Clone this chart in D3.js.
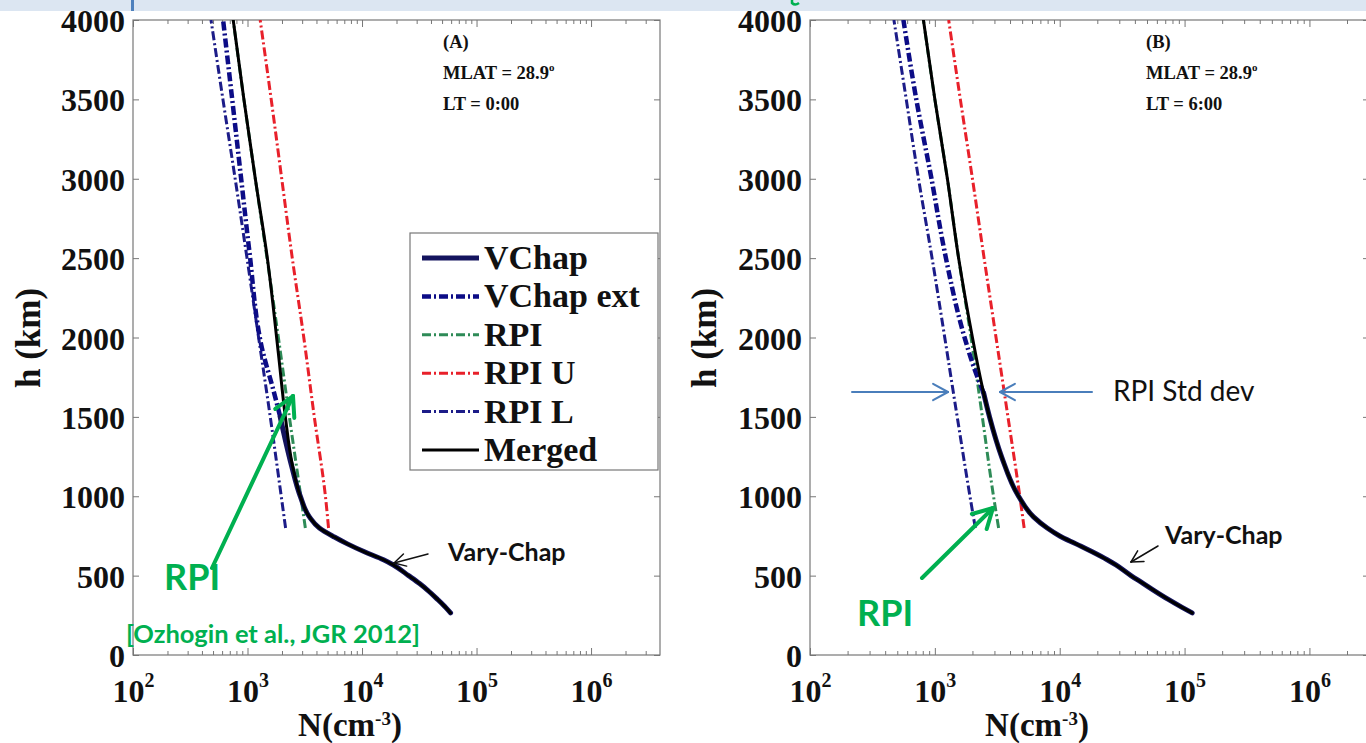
<!DOCTYPE html>
<html>
<head>
<meta charset="utf-8">
<script src="https://cdn.jsdelivr.net/npm/d3@7"></script>
<style>
  body { margin: 0; background: #fff; }
  svg { display: block; }
  .tk text { font-family: "Liberation Serif", serif; font-weight: bold; font-size: 32px; fill: #111; }
  .tk line, .tk path { stroke: #777; }
</style>
</head>
<body>
<div id="chart"></div>
<script>
// heights (km) of the RPI profiles, shared by both panels
var hRpi = [800, 1000, 1500, 2000, 2500, 3000, 3500, 4000];

// panel A, LT = 0:00
var rpiA  = [3200, 2920, 2320, 1860, 1480, 1170, 930, 750];
var rpiUA = [5100, 4790, 3830, 3100, 2460, 1990, 1610, 1290];
var rpiLA = [2150, 1970, 1580, 1250, 990, 780, 610, 480];
var hChapA = [265, 300, 350, 409, 450, 500, 567, 600, 650, 700, 743, 800, 870, 1000, 1200, 1500];
var chapA  = [59300, 53700, 45700, 37300, 31800, 25500, 18800, 15400, 10500, 7450, 5740, 4240, 3470, 2890, 2410, 1930];
var hExtA = [1500, 1670, 1920, 2550, 3000, 3500, 4000];
var extA  = [1930, 1680, 1350, 1035, 880, 735, 612];
var hMergedA = [265, 300, 350, 409, 450, 500, 567, 600, 650, 700, 743, 800, 870, 1000, 1200, 1500, 1900, 2500, 3000, 3500, 4000];
var mergedA  = [59300, 53700, 45700, 37300, 31800, 25500, 18800, 15400, 10500, 7450, 5740, 4240, 3470, 2890, 2460, 2140, 1860, 1490, 1170, 930, 750];

// panel B, LT = 6:00
var rpiB  = [3240, 2950, 2400, 1950, 1550, 1260, 1000, 810];
var rpiUB = [5190, 4790, 3850, 3090, 2480, 2000, 1600, 1290];
var rpiLB = [2110, 1910, 1510, 1200, 950, 740, 590, 470];
var hChapB = [265, 300, 350, 409, 450, 500, 567, 600, 650, 700, 750, 800, 870, 1000, 1250, 1500, 1650];
var chapB  = [115000, 95500, 74100, 56200, 46800, 37200, 28200, 24000, 18200, 13500, 10000, 7940, 6170, 4680, 3420, 2740, 2460];
var hExtB = [1650, 1800, 2000, 2551, 3000, 3500, 4000];
var extB  = [2460, 2080, 1730, 1190, 940, 710, 560];
var hMergedB = [265, 300, 350, 409, 450, 500, 567, 600, 650, 700, 750, 800, 870, 1000, 1250, 1500, 1650, 1800, 2000, 2500, 3000, 3500, 4000];
var mergedB  = [115000, 95500, 74100, 56200, 46800, 37200, 28200, 24000, 18200, 13500, 10000, 7940, 6170, 4680, 3420, 2740, 2460, 2240, 2000, 1550, 1260, 1000, 810];

var hTicks = [0, 500, 1000, 1500, 2000, 2500, 3000, 3500, 4000];
var decades = [1e2, 1e3, 1e4, 1e5, 1e6];
var legendNames = ["VChap", "VChap ext", "RPI", "RPI U", "RPI L", "Merged"];

var width = 1366, height = 743;
var svg = d3.select("#chart").append("svg")
    .attr("width", width)
    .attr("height", height);

// strip of the slide above the figure
svg.append("rect").attr("x", 0).attr("y", 0).attr("width", width).attr("height", 11).attr("fill", "#dce6f2");
svg.append("rect").attr("x", 131).attr("y", 0).attr("width", 3).attr("height", 11).attr("fill", "#4f81bd");
svg.append("path").attr("d", "M792,0 L792,3 Q795,6 799,3")
  .attr("fill", "none").attr("stroke", "#00b050").attr("stroke-width", 2.5);

var styles = {
  "VChap":     {color: "#14145e", w: 5,   dash: null},
  "VChap ext": {color: "#0c0c86", w: 4.5, dash: "9,3,2,3"},
  "RPI":       {color: "#2e8b57", w: 3,   dash: "9,3,2,3"},
  "RPI U":     {color: "#e8202a", w: 3,   dash: "9,3,2,3"},
  "RPI L":     {color: "#1c1c88", w: 3,   dash: "9,3,2,3"},
  "Merged":    {color: "#000000", w: 3,   dash: null}
};

function drawPanel(p) {
  var x = d3.scaleLog().domain([1e2, p.xmax]).range([p.left, p.right]);
  var y = d3.scaleLinear().domain([0, 4000]).range([655, 20]);

  var g = svg.append("g");
  var clipId = "clip" + p.tag;
  g.append("clipPath").attr("id", clipId).append("rect")
    .attr("x", p.left).attr("y", 20).attr("width", p.right - p.left).attr("height", 635);

  var minor = [];
  for (var e = 2; e < 7; e++) for (var m = 2; m < 10; m++) {
    var v = m * Math.pow(10, e);
    if (v < p.xmax) minor.push(v);
  }

  // minor log ticks, top and bottom
  g.append("g").attr("class", "tk").attr("transform", "translate(0,655)")
    .call(d3.axisBottom(x).tickValues(minor).tickSize(-4).tickFormat(""))
    .select(".domain").remove();
  g.append("g").attr("class", "tk").attr("transform", "translate(0,20)")
    .call(d3.axisTop(x).tickValues(minor).tickSize(-4).tickFormat(""))
    .select(".domain").remove();
  g.append("g").attr("class", "tk").attr("transform", "translate(0,20)")
    .call(d3.axisTop(x).tickValues(decades).tickSize(-7).tickFormat(""))
    .select(".domain").remove();

  var xa = g.append("g").attr("class", "tk").attr("transform", "translate(0,655)")
    .call(d3.axisBottom(x).tickValues(decades).tickSize(-7).tickFormat(""));
  xa.select(".domain").remove();
  xa.selectAll(".tick").append("text")
    .attr("y", 47).attr("text-anchor", "middle").attr("fill", "#111")
    .each(function(d) {
      var t = d3.select(this);
      t.append("tspan").text("10");
      t.append("tspan").attr("dy", -15).attr("font-size", 20).text(Math.round(Math.log10(d)));
    });

  var ya = g.append("g").attr("class", "tk").attr("transform", "translate(" + p.left + ",0)")
    .call(d3.axisLeft(y).tickValues(hTicks).tickSize(-6).tickPadding(8).tickFormat(d3.format("d")));
  ya.select(".domain").remove();
  ya.selectAll(".tick text").attr("dy", "0.36em");
  g.append("g").attr("class", "tk").attr("transform", "translate(" + p.right + ",0)")
    .call(d3.axisRight(y).tickValues(hTicks).tickSize(-6).tickFormat(""))
    .select(".domain").remove();

  g.append("rect").attr("x", p.left).attr("y", 20)
    .attr("width", p.right - p.left).attr("height", 635)
    .attr("fill", "none").attr("stroke", "#777").attr("stroke-width", 1.2);

  var line = d3.line()
    .x(function(d) { return x(d[1]); })
    .y(function(d) { return y(d[0]); })
    .curve(d3.curveMonotoneY);

  var series = [
    ["RPI L", hRpi, p.rpiL],
    ["RPI U", hRpi, p.rpiU],
    ["RPI", hRpi, p.rpi],
    ["VChap ext", p.hExt, p.ext],
    ["VChap", p.hChap, p.chap],
    ["Merged", p.hMerged, p.merged]
  ];
  var lines = g.append("g").attr("clip-path", "url(#" + clipId + ")");
  series.forEach(function(s) {
    var st = styles[s[0]];
    lines.append("path")
      .attr("d", line(d3.zip(s[1], s[2])))
      .attr("fill", "none")
      .attr("stroke", st.color)
      .attr("stroke-width", st.w)
      .attr("stroke-dasharray", st.dash)
      .attr("stroke-linecap", st.dash ? "butt" : "round");
  });

  // panel notes
  var notes = g.append("g").attr("font-family", "Liberation Serif").attr("font-weight", "bold")
    .attr("font-size", 18.5).attr("fill", "#111");
  notes.append("text").attr("x", p.noteX).attr("y", 48).text("(" + p.tag + ")");
  var ml = notes.append("text").attr("x", p.noteX).attr("y", 79);
  ml.append("tspan").text("MLAT = 28.9");
  ml.append("tspan").attr("dy", -8).attr("font-size", 11).text("o");
  notes.append("text").attr("x", p.noteX).attr("y", 110).text("LT = " + p.lt);

  // axis titles
  svg.append("text")
    .attr("transform", "translate(" + p.ylabX + ",338) rotate(-90)")
    .attr("text-anchor", "middle")
    .attr("font-family", "Liberation Serif").attr("font-weight", "bold").attr("font-size", 35)
    .attr("fill", "#111").text("h (km)");
  var xl = svg.append("text").attr("x", p.xlabX).attr("y", 736)
    .attr("text-anchor", "middle")
    .attr("font-family", "Liberation Serif").attr("font-weight", "bold").attr("font-size", 33)
    .attr("fill", "#111");
  xl.append("tspan").text("N(cm");
  xl.append("tspan").attr("dy", -11).attr("font-size", 19).text("-3");
  xl.append("tspan").attr("dy", 11).text(")");

  return {x: x, y: y};
}

var pA = drawPanel({tag: "A", left: 133, right: 660, xmax: 4e6, lt: "0:00", noteX: 443,
  ylabX: 40, xlabX: 350,
  rpi: rpiA, rpiU: rpiUA, rpiL: rpiLA, hChap: hChapA, chap: chapA, hExt: hExtA, ext: extA,
  hMerged: hMergedA, merged: mergedA});
var pB = drawPanel({tag: "B", left: 810, right: 1369, xmax: 3e6, lt: "6:00", noteX: 1146,
  ylabX: 716, xlabX: 1037,
  rpi: rpiB, rpiU: rpiUB, rpiL: rpiLB, hChap: hChapB, chap: chapB, hExt: hExtB, ext: extB,
  hMerged: hMergedB, merged: mergedB});

// legend in panel A
var leg = svg.append("g");
leg.append("rect").attr("x", 410).attr("y", 233).attr("width", 248).attr("height", 237)
  .attr("fill", "#fff").attr("stroke", "#777").attr("stroke-width", 1.2);
legendNames.forEach(function(name, i) {
  var st = styles[name];
  var yy = 258 + i * 38.4;
  leg.append("line").attr("x1", 422).attr("x2", 479).attr("y1", yy).attr("y2", yy)
    .attr("stroke", st.color).attr("stroke-width", st.w).attr("stroke-dasharray", st.dash);
  leg.append("text").attr("x", 484).attr("y", yy + 11)
    .attr("font-family", "Liberation Serif").attr("font-weight", "bold").attr("font-size", 34)
    .attr("fill", "#111").text(name);
});

// annotation arrows
function arrow(x1, y1, x2, y2, head, color, w) {
  var a = Math.atan2(y2 - y1, x2 - x1);
  var g = svg.append("g").attr("stroke", color).attr("stroke-width", w)
    .attr("fill", "none").attr("stroke-linecap", "round");
  g.append("line").attr("x1", x1).attr("y1", y1).attr("x2", x2).attr("y2", y2);
  [-0.5, 0.5].forEach(function(da) {
    g.append("line").attr("x1", x2).attr("y1", y2)
      .attr("x2", x2 - head * Math.cos(a + da)).attr("y2", y2 - head * Math.sin(a + da));
  });
}

var green = "#00b050";
arrow(212, 568, 293, 396, 22, green, 4);
arrow(922, 578, 993, 508, 22, green, 4);
arrow(428, 554, 394, 563, 13, "#111", 1.5);
arrow(1158, 546, 1131, 562, 13, "#111", 1.5);
arrow(852, 392, 948, 392, 17, "#4a7ebb", 2);
arrow(1092, 392, 1000, 392, 17, "#4a7ebb", 2);

function note(x, y, txt, size, weight, color) {
  svg.append("text").attr("x", x).attr("y", y)
    .attr("font-family", "Lato").attr("font-size", size).attr("font-weight", weight)
    .attr("fill", color).text(txt);
}
note(164, 590, "RPI", 36, "bold", green);
note(126, 643, "[Ozhogin et al., JGR 2012]", 25.5, "bold", green);
note(857, 626, "RPI", 36, "bold", green);
note(448, 561, "Vary-Chap", 25, "bold", "#111");
note(1165, 544, "Vary-Chap", 25, "bold", "#111");
note(1113, 401, "RPI Std dev", 28, "normal", "#111");
</script>
</body>
</html>
